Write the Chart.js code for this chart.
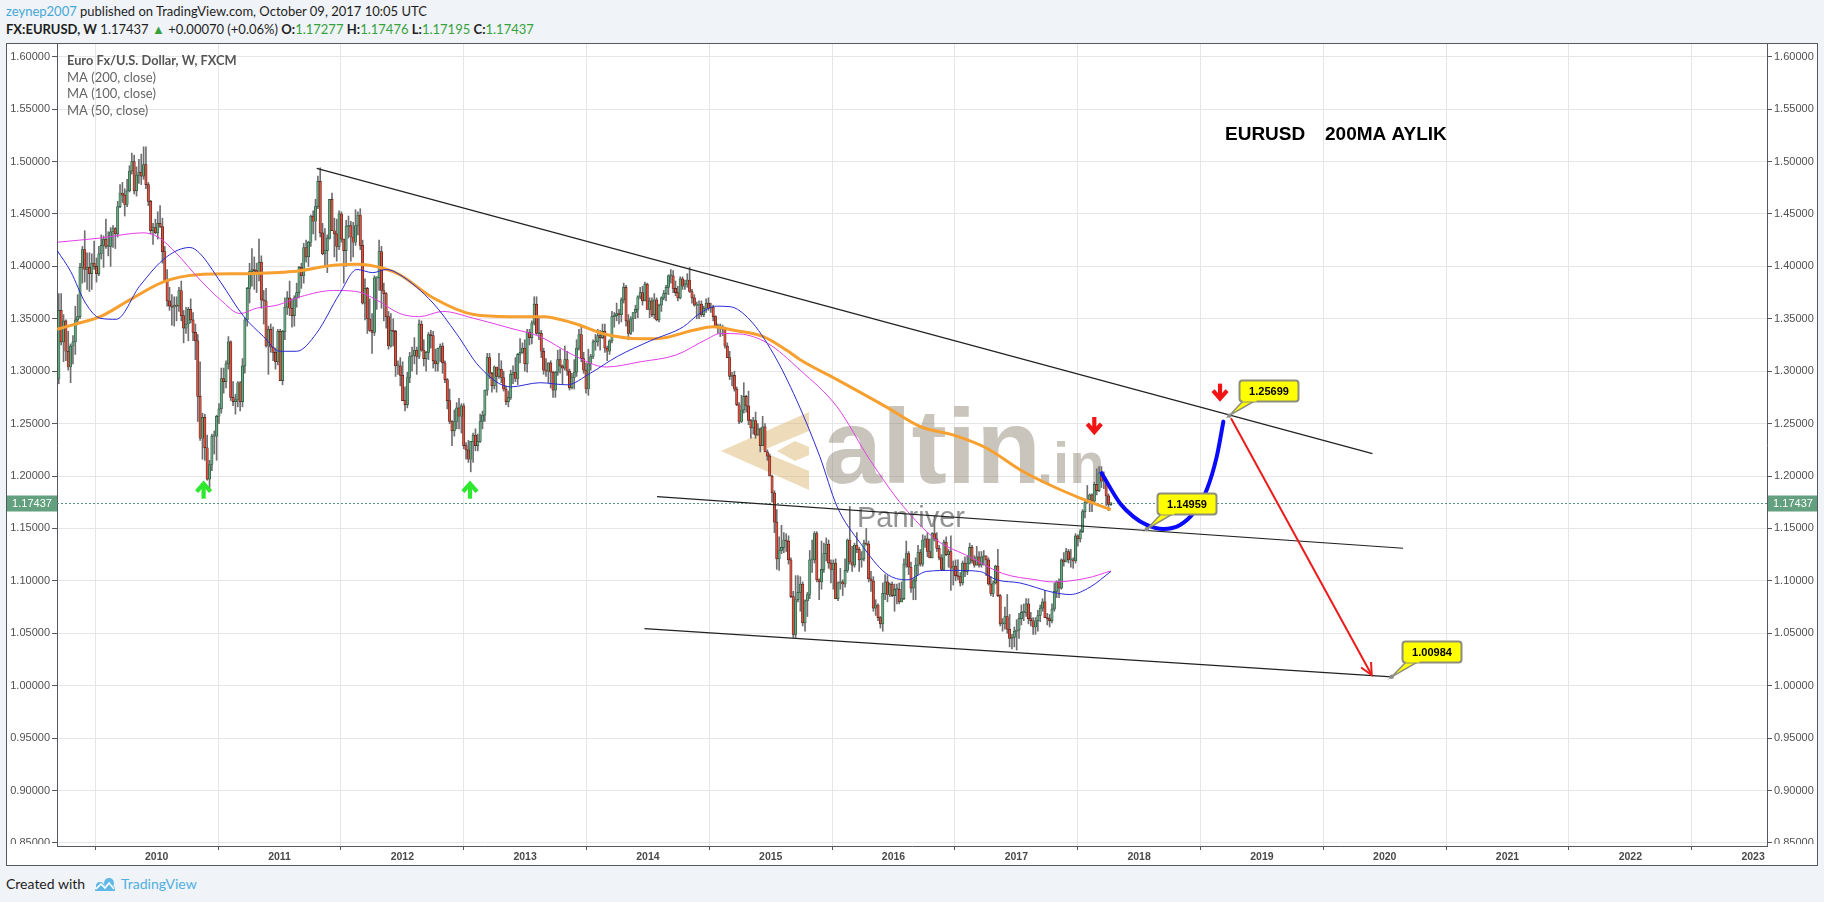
<!DOCTYPE html>
<html>
<head>
<meta charset="utf-8">
<script src="https://cdn.jsdelivr.net/npm/chart.js@4.4.1/dist/chart.umd.min.js"></script>
<style>
html,body{margin:0;padding:0;background:#f0f3f7;width:1824px;height:902px;overflow:hidden;font-family:Lato,"Open Sans",sans-serif;color:#1e1e1e;}
.hdr{position:absolute;left:6px;white-space:nowrap;font-size:13px;line-height:17px;}
#h1{top:3px;}
#h2{top:21px;}
.u{color:#44a8d8;}
.g{color:#36a23c;}
#frame{position:absolute;left:6px;top:43px;width:1812px;height:823px;border:1px solid #55585e;box-sizing:border-box;background:#fff;}
#c{position:absolute;left:0;top:0;}
#foot{position:absolute;left:6px;top:875px;font-size:14px;line-height:18px;white-space:nowrap;color:#1e1e1e;}
#foot svg{vertical-align:-3px;margin:0 4px 0 8px;}
</style>
</head>
<body>
<div class="hdr" id="h1"><span class="u">zeynep2007</span> published on TradingView.com, October 09, 2017 10:05 UTC</div>
<div class="hdr" id="h2"><b>FX:EURUSD, W</b> 1.17437 <span class="g">&#9650;</span> +0.00070 (+0.06%) <b>O:</b><span class="g">1.17277</span> <b>H:</b><span class="g">1.17476</span> <b>L:</b><span class="g">1.17195</span> <b>C:</b><span class="g">1.17437</span></div>
<div id="frame"><canvas id="c" width="1810" height="821"></canvas></div>
<div id="foot">Created with<svg width="24" height="15" viewBox="0 0 24 15"><path d="M2 13 L8 5 L12 9 L16 3 L22 11 L22 14 L2 14 Z" fill="#5fb9e4"/><circle cx="16" cy="6" r="5" fill="#5fb9e4"/><circle cx="7" cy="9" r="4" fill="#5fb9e4"/><path d="M3 12 L8 7 L12 11 L16 6 L21 12" stroke="#fff" stroke-width="1.6" fill="none"/></svg><span class="u" style="color:#4fb0df">TradingView</span></div>
<script>
// ---------------- DATA ----------------
// Weekly bars, first bar = week of Monday 2009-03-16
const firstWeekMonday = [2009, 2, 16];

const opens = [
/*2009*/1.293,1.358,1.328,1.348,1.319,1.304,1.324,1.328,1.349,1.352,1.399,1.416,1.397,1.399,1.393,1.403,1.400,1.393,1.412,1.420,1.426,1.419,1.419,1.433,1.436,1.431,1.457,1.470,1.468,1.459,1.472,1.491,1.500,1.472,1.487,1.490,1.486,1.497,1.478,1.462,1.434,1.437,
/*2010*/1.432,1.441,1.438,1.414,1.386,1.367,1.362,1.361,1.363,1.362,1.377,1.353,1.341,1.345,1.359,1.349,1.337,1.329,1.276,1.236,1.256,1.227,1.197,1.211,1.238,1.238,1.257,1.264,1.293,1.290,1.307,1.328,1.275,1.271,1.273,1.289,1.271,1.305,1.349,1.379,1.395,1.397,1.396,1.394,1.404,1.368,1.367,1.324,1.340,1.323,1.318,1.309,
/*2011*/1.338,1.291,1.338,1.361,1.370,1.360,1.353,1.370,1.375,1.399,1.391,1.418,1.409,1.423,1.448,1.443,1.457,1.481,1.432,1.412,1.415,1.427,1.464,1.434,1.431,1.419,1.450,1.426,1.415,1.438,1.439,1.428,1.423,1.439,1.449,1.420,1.365,1.379,1.350,1.339,1.337,1.389,1.389,1.414,1.377,1.374,1.352,1.324,1.339,1.338,1.305,1.305,
/*2012*/1.296,1.272,1.268,1.294,1.314,1.315,1.320,1.314,1.345,1.320,1.312,1.318,1.335,1.334,1.310,1.307,1.322,1.324,1.308,1.292,1.272,1.252,1.243,1.252,1.265,1.257,1.267,1.229,1.225,1.216,1.233,1.239,1.229,1.233,1.252,1.258,1.282,1.313,1.298,1.286,1.304,1.295,1.302,1.294,1.283,1.271,1.275,1.297,1.299,1.293,1.316,1.318,1.322,
/*2013*/1.307,1.337,1.332,1.346,1.364,1.336,1.336,1.319,1.301,1.300,1.308,1.299,1.282,1.299,1.311,1.305,1.303,1.311,1.300,1.284,1.294,1.299,1.322,1.335,1.312,1.301,1.283,1.307,1.314,1.328,1.328,1.334,1.332,1.338,1.322,1.319,1.329,1.352,1.353,1.355,1.354,1.368,1.380,1.348,1.336,1.350,1.356,1.359,1.371,1.375,1.367,1.383,
/*2014*/1.359,1.367,1.354,1.368,1.349,1.363,1.370,1.374,1.380,1.391,1.391,1.379,1.375,1.370,1.388,1.381,1.383,1.387,1.376,1.370,1.363,1.363,1.364,1.354,1.360,1.365,1.360,1.361,1.352,1.343,1.343,1.341,1.340,1.324,1.313,1.295,1.296,1.283,1.268,1.252,1.263,1.276,1.267,1.253,1.246,1.253,1.239,1.245,1.229,1.247,1.223,1.219,
/*2015*/1.200,1.184,1.156,1.121,1.129,1.132,1.139,1.138,1.120,1.085,1.049,1.082,1.089,1.097,1.060,1.081,1.087,1.120,1.120,1.145,1.101,1.099,1.111,1.126,1.135,1.117,1.111,1.117,1.083,1.098,1.099,1.097,1.110,1.139,1.118,1.115,1.134,1.130,1.120,1.121,1.136,1.135,1.102,1.100,1.074,1.077,1.065,1.059,1.088,1.099,1.087,1.097,
/*2016*/1.086,1.092,1.092,1.080,1.083,1.116,1.126,1.113,1.093,1.100,1.115,1.127,1.116,1.139,1.140,1.128,1.122,1.145,1.140,1.131,1.122,1.111,1.137,1.125,1.128,1.112,1.114,1.105,1.104,1.098,1.117,1.109,1.117,1.132,1.119,1.115,1.123,1.115,1.123,1.124,1.120,1.097,1.088,1.098,1.114,1.086,1.059,1.059,1.066,1.054,1.045,1.046,
/*2017*/1.052,1.053,1.064,1.070,1.070,1.078,1.064,1.062,1.056,1.062,1.067,1.074,1.080,1.065,1.064,1.062,1.073,1.090,1.099,1.093,1.120,1.118,1.128,1.120,1.120,1.119,1.143,1.140,1.147,1.166,1.175,1.177,1.182,1.176,1.192,1.186,1.203,1.195,1.195,1.181,1.17277
];
const highs = [
/*2009*/1.374,1.374,1.354,1.349,1.338,1.326,1.334,1.362,1.373,1.403,1.419,1.434,1.413,1.413,1.412,1.424,1.408,1.419,1.430,1.429,1.445,1.433,1.437,1.439,1.437,1.462,1.478,1.480,1.474,1.483,1.496,1.508,1.506,1.495,1.502,1.507,1.514,1.514,1.480,1.463,1.441,1.445,
/*2010*/1.452,1.458,1.446,1.419,1.397,1.380,1.373,1.371,1.371,1.380,1.386,1.358,1.361,1.361,1.369,1.356,1.345,1.335,1.309,1.260,1.259,1.239,1.215,1.240,1.243,1.258,1.269,1.303,1.303,1.310,1.333,1.329,1.290,1.278,1.290,1.290,1.312,1.351,1.380,1.403,1.417,1.409,1.403,1.426,1.410,1.377,1.379,1.343,1.345,1.342,1.322,1.340,
/*2011*/1.340,1.339,1.370,1.376,1.386,1.369,1.372,1.384,1.400,1.403,1.422,1.425,1.424,1.449,1.453,1.464,1.486,1.494,1.441,1.436,1.430,1.464,1.470,1.446,1.445,1.453,1.452,1.426,1.444,1.448,1.443,1.442,1.454,1.452,1.455,1.425,1.388,1.380,1.369,1.355,1.391,1.390,1.425,1.419,1.384,1.375,1.357,1.355,1.350,1.339,1.310,1.313,
/*2012*/1.309,1.285,1.299,1.318,1.323,1.332,1.323,1.349,1.348,1.330,1.319,1.337,1.339,1.338,1.321,1.322,1.326,1.327,1.310,1.293,1.283,1.253,1.263,1.270,1.274,1.269,1.269,1.232,1.234,1.233,1.241,1.245,1.240,1.259,1.262,1.282,1.317,1.317,1.299,1.305,1.304,1.317,1.310,1.300,1.286,1.281,1.301,1.305,1.313,1.317,1.331,1.327,1.330,
/*2013*/1.340,1.340,1.348,1.371,1.371,1.352,1.339,1.322,1.312,1.308,1.310,1.300,1.300,1.320,1.321,1.306,1.324,1.319,1.302,1.298,1.311,1.330,1.340,1.342,1.318,1.308,1.321,1.316,1.330,1.335,1.340,1.339,1.345,1.345,1.324,1.330,1.357,1.356,1.365,1.359,1.370,1.384,1.382,1.354,1.352,1.356,1.363,1.372,1.380,1.381,1.385,1.384,
/*2014*/1.370,1.370,1.374,1.370,1.364,1.371,1.377,1.382,1.392,1.397,1.396,1.386,1.381,1.390,1.390,1.387,1.393,1.399,1.378,1.373,1.366,1.367,1.367,1.362,1.369,1.370,1.365,1.363,1.353,1.345,1.345,1.344,1.342,1.327,1.319,1.299,1.300,1.285,1.270,1.277,1.289,1.277,1.281,1.254,1.256,1.261,1.250,1.246,1.257,1.250,1.225,1.221,
/*2015*/1.201,1.186,1.168,1.142,1.153,1.146,1.145,1.143,1.122,1.090,1.105,1.105,1.104,1.099,1.082,1.089,1.129,1.139,1.147,1.147,1.102,1.138,1.136,1.141,1.139,1.120,1.120,1.121,1.099,1.112,1.101,1.121,1.140,1.171,1.133,1.136,1.146,1.132,1.128,1.139,1.150,1.138,1.109,1.104,1.082,1.078,1.066,1.098,1.106,1.105,1.098,1.099,
/*2016*/1.097,1.097,1.098,1.099,1.121,1.138,1.128,1.118,1.102,1.122,1.134,1.130,1.144,1.143,1.146,1.140,1.146,1.162,1.146,1.134,1.125,1.139,1.142,1.130,1.143,1.119,1.120,1.120,1.108,1.119,1.123,1.124,1.136,1.134,1.124,1.133,1.128,1.128,1.129,1.124,1.122,1.104,1.100,1.115,1.130,1.087,1.064,1.075,1.087,1.068,1.049,1.056,
/*2017*/1.063,1.069,1.077,1.078,1.083,1.083,1.070,1.065,1.065,1.072,1.077,1.083,1.091,1.069,1.068,1.078,1.098,1.100,1.102,1.121,1.127,1.131,1.130,1.130,1.122,1.145,1.144,1.149,1.168,1.178,1.191,1.183,1.183,1.194,1.207,1.209,1.209,1.204,1.196,1.183,1.17476
];
const lows = [
/*2009*/1.288,1.325,1.309,1.310,1.301,1.289,1.307,1.316,1.346,1.350,1.384,1.385,1.378,1.376,1.378,1.397,1.385,1.391,1.407,1.399,1.417,1.410,1.400,1.418,1.417,1.428,1.456,1.461,1.448,1.457,1.471,1.488,1.469,1.467,1.479,1.478,1.483,1.474,1.458,1.431,1.421,1.431,
/*2010*/1.426,1.437,1.403,1.386,1.362,1.358,1.344,1.343,1.348,1.357,1.348,1.327,1.336,1.329,1.346,1.329,1.311,1.252,1.234,1.216,1.215,1.196,1.188,1.205,1.221,1.215,1.250,1.260,1.279,1.284,1.302,1.272,1.267,1.259,1.266,1.262,1.266,1.298,1.343,1.365,1.381,1.378,1.375,1.386,1.360,1.345,1.323,1.297,1.318,1.310,1.302,1.306,
/*2011*/1.291,1.287,1.330,1.354,1.353,1.342,1.343,1.361,1.370,1.379,1.384,1.404,1.400,1.419,1.431,1.425,1.455,1.428,1.411,1.400,1.394,1.426,1.434,1.409,1.405,1.416,1.423,1.384,1.400,1.427,1.405,1.409,1.420,1.430,1.416,1.364,1.349,1.336,1.338,1.317,1.334,1.359,1.377,1.360,1.348,1.341,1.321,1.323,1.324,1.295,1.297,1.286,
/*2012*/1.272,1.262,1.265,1.289,1.300,1.307,1.297,1.312,1.319,1.305,1.300,1.311,1.322,1.303,1.300,1.300,1.309,1.298,1.289,1.264,1.250,1.229,1.238,1.245,1.245,1.241,1.226,1.216,1.213,1.204,1.213,1.224,1.224,1.232,1.245,1.252,1.277,1.293,1.280,1.283,1.280,1.293,1.289,1.281,1.268,1.266,1.273,1.288,1.290,1.287,1.308,1.317,1.300,
/*2013*/1.299,1.325,1.326,1.344,1.335,1.330,1.313,1.297,1.295,1.289,1.284,1.275,1.275,1.296,1.298,1.288,1.301,1.296,1.282,1.283,1.283,1.295,1.320,1.309,1.298,1.279,1.277,1.301,1.312,1.320,1.324,1.320,1.331,1.318,1.310,1.316,1.327,1.342,1.348,1.345,1.347,1.365,1.343,1.330,1.335,1.338,1.350,1.351,1.369,1.363,1.367,1.359,
/*2014*/1.351,1.352,1.350,1.348,1.347,1.357,1.368,1.367,1.373,1.384,1.375,1.372,1.367,1.369,1.378,1.378,1.380,1.375,1.365,1.362,1.350,1.350,1.352,1.352,1.356,1.358,1.356,1.348,1.343,1.336,1.333,1.334,1.322,1.313,1.292,1.286,1.281,1.267,1.250,1.251,1.260,1.261,1.249,1.236,1.240,1.236,1.239,1.223,1.229,1.223,1.215,1.200,
/*2015*/1.175,1.146,1.111,1.110,1.126,1.127,1.128,1.116,1.084,1.046,1.046,1.080,1.071,1.057,1.052,1.066,1.083,1.108,1.117,1.099,1.082,1.092,1.108,1.119,1.112,1.098,1.092,1.083,1.081,1.092,1.086,1.094,1.108,1.116,1.109,1.113,1.127,1.109,1.113,1.119,1.134,1.099,1.090,1.071,1.067,1.062,1.055,1.052,1.082,1.080,1.085,1.085,
/*2016*/1.071,1.078,1.078,1.080,1.082,1.113,1.106,1.089,1.082,1.082,1.106,1.114,1.114,1.132,1.123,1.122,1.122,1.138,1.128,1.120,1.110,1.110,1.124,1.113,1.091,1.096,1.100,1.101,1.095,1.096,1.104,1.106,1.116,1.117,1.113,1.115,1.113,1.113,1.115,1.105,1.096,1.086,1.085,1.097,1.085,1.057,1.052,1.054,1.050,1.037,1.035,1.037,
/*2017*/1.034,1.045,1.058,1.062,1.066,1.059,1.057,1.049,1.049,1.052,1.061,1.071,1.065,1.058,1.056,1.060,1.071,1.084,1.084,1.092,1.114,1.118,1.117,1.113,1.112,1.117,1.133,1.137,1.146,1.160,1.174,1.166,1.166,1.175,1.182,1.185,1.189,1.188,1.172,1.167,1.17195
];
const closes = [
/*2009*/1.358,1.328,1.348,1.319,1.304,1.324,1.328,1.349,1.352,1.399,1.416,1.397,1.399,1.393,1.403,1.400,1.393,1.412,1.420,1.426,1.419,1.419,1.433,1.436,1.431,1.457,1.470,1.468,1.459,1.472,1.491,1.500,1.472,1.487,1.490,1.486,1.497,1.478,1.462,1.434,1.437,1.432,
/*2010*/1.441,1.438,1.414,1.386,1.367,1.362,1.361,1.363,1.362,1.377,1.353,1.341,1.345,1.359,1.349,1.337,1.329,1.276,1.236,1.256,1.227,1.197,1.211,1.238,1.238,1.257,1.264,1.293,1.290,1.307,1.328,1.275,1.271,1.273,1.289,1.271,1.305,1.349,1.379,1.395,1.397,1.396,1.394,1.404,1.368,1.367,1.324,1.340,1.323,1.318,1.309,1.338,
/*2011*/1.291,1.338,1.361,1.370,1.360,1.353,1.370,1.375,1.399,1.391,1.418,1.409,1.423,1.448,1.443,1.457,1.481,1.432,1.412,1.415,1.427,1.464,1.434,1.431,1.419,1.450,1.426,1.415,1.438,1.439,1.428,1.423,1.439,1.449,1.420,1.365,1.379,1.350,1.339,1.337,1.389,1.389,1.414,1.377,1.374,1.352,1.324,1.339,1.338,1.305,1.305,1.296,
/*2012*/1.272,1.268,1.294,1.314,1.315,1.320,1.314,1.345,1.320,1.312,1.318,1.335,1.334,1.310,1.307,1.322,1.324,1.308,1.292,1.272,1.252,1.243,1.252,1.265,1.257,1.267,1.229,1.225,1.216,1.233,1.239,1.229,1.233,1.252,1.258,1.282,1.313,1.298,1.286,1.304,1.295,1.302,1.294,1.283,1.271,1.275,1.297,1.299,1.293,1.316,1.318,1.322,1.307,
/*2013*/1.337,1.332,1.346,1.364,1.336,1.336,1.319,1.301,1.300,1.308,1.299,1.282,1.299,1.311,1.305,1.303,1.311,1.300,1.284,1.294,1.299,1.322,1.335,1.312,1.301,1.283,1.307,1.314,1.328,1.328,1.334,1.332,1.338,1.322,1.319,1.329,1.352,1.353,1.355,1.354,1.368,1.380,1.348,1.336,1.350,1.356,1.359,1.371,1.375,1.367,1.383,1.359,
/*2014*/1.367,1.354,1.368,1.349,1.363,1.370,1.374,1.380,1.391,1.391,1.379,1.375,1.370,1.388,1.381,1.383,1.387,1.376,1.370,1.363,1.363,1.364,1.354,1.360,1.365,1.360,1.361,1.352,1.343,1.343,1.341,1.340,1.324,1.313,1.295,1.296,1.283,1.268,1.252,1.263,1.276,1.267,1.253,1.246,1.253,1.239,1.245,1.229,1.247,1.223,1.219,1.200,
/*2015*/1.184,1.156,1.121,1.129,1.132,1.139,1.138,1.120,1.085,1.049,1.082,1.089,1.097,1.060,1.081,1.087,1.120,1.120,1.145,1.101,1.099,1.111,1.126,1.135,1.117,1.111,1.117,1.083,1.098,1.099,1.097,1.110,1.139,1.118,1.115,1.134,1.130,1.120,1.121,1.136,1.135,1.102,1.100,1.074,1.077,1.065,1.059,1.088,1.099,1.087,1.097,1.086,
/*2016*/1.092,1.092,1.080,1.083,1.116,1.126,1.113,1.093,1.100,1.115,1.127,1.116,1.139,1.140,1.128,1.122,1.145,1.140,1.131,1.122,1.111,1.137,1.125,1.128,1.112,1.114,1.105,1.104,1.098,1.117,1.109,1.117,1.132,1.119,1.115,1.123,1.115,1.123,1.124,1.120,1.097,1.088,1.098,1.114,1.086,1.059,1.059,1.066,1.054,1.045,1.046,1.052,
/*2017*/1.053,1.064,1.070,1.070,1.078,1.064,1.062,1.056,1.062,1.067,1.074,1.080,1.065,1.064,1.062,1.073,1.090,1.099,1.093,1.120,1.118,1.128,1.120,1.120,1.119,1.143,1.140,1.147,1.166,1.175,1.177,1.182,1.176,1.192,1.186,1.203,1.195,1.195,1.181,1.173,1.17437
];

// Moving averages: [decimal year, value]
const ma200Pts = [[2009.19,1.340],[2009.37,1.346],[2009.54,1.352],[2009.78,1.368],[2010.05,1.385],[2010.33,1.392],[2010.73,1.393],[2011.11,1.395],[2011.44,1.401],[2011.63,1.402],[2011.85,1.398],[2011.98,1.392],[2012.25,1.370],[2012.58,1.354],[2012.88,1.352],[2013.15,1.352],[2013.39,1.346],[2013.66,1.335],[2013.94,1.331],[2014.07,1.331],[2014.37,1.339],[2014.53,1.3425],[2014.70,1.339],[2014.94,1.333],[2015.13,1.320],[2015.24,1.311],[2015.54,1.292],[2015.94,1.266],[2016.22,1.247],[2016.49,1.239],[2016.76,1.2265],[2017.03,1.206],[2017.30,1.190],[2017.52,1.179],[2017.77,1.168]];
const ma100Pts = [[2009.19,1.423],[2009.54,1.427],[2009.89,1.432],[2010.01,1.428],[2010.16,1.4125],[2010.33,1.390],[2010.52,1.368],[2010.68,1.355],[2010.81,1.360],[2010.98,1.363],[2011.17,1.371],[2011.44,1.377],[2011.63,1.376],[2011.79,1.368],[2011.98,1.355],[2012.14,1.352],[2012.33,1.357],[2012.58,1.3505],[2012.88,1.341],[2013.12,1.333],[2013.39,1.3155],[2013.66,1.304],[2013.94,1.309],[2014.23,1.3155],[2014.48,1.3305],[2014.59,1.336],[2014.75,1.3355],[2014.97,1.327],[2015.24,1.301],[2015.54,1.266],[2015.81,1.215],[2016.08,1.171],[2016.35,1.139],[2016.62,1.123],[2016.89,1.107],[2017.16,1.101],[2017.30,1.099],[2017.57,1.1025],[2017.77,1.1095]];
const ma50Pts = [[2009.19,1.415],[2009.30,1.395],[2009.42,1.365],[2009.54,1.3505],[2009.67,1.3495],[2009.86,1.381],[2010.08,1.409],[2010.27,1.418],[2010.35,1.4125],[2010.52,1.385],[2010.71,1.352],[2010.87,1.333],[2011.00,1.319],[2011.14,1.319],[2011.30,1.336],[2011.49,1.374],[2011.63,1.397],[2011.76,1.394],[2011.87,1.397],[2011.98,1.392],[2012.25,1.365],[2012.44,1.336],[2012.63,1.304],[2012.88,1.285],[2013.12,1.289],[2013.34,1.287],[2013.53,1.298],[2013.75,1.314],[2014.02,1.329],[2014.29,1.3425],[2014.42,1.355],[2014.56,1.362],[2014.67,1.3615],[2014.83,1.349],[2015.02,1.317],[2015.21,1.2726],[2015.40,1.2185],[2015.54,1.171],[2015.73,1.136],[2015.94,1.107],[2016.11,1.101],[2016.27,1.109],[2016.49,1.110],[2016.70,1.109],[2016.84,1.101],[2017.03,1.098],[2017.30,1.089],[2017.44,1.087],[2017.60,1.094],[2017.77,1.109]];

// Drawings (decimal year, price)
const trendUpper = [[2011.303,1.4935],[2019.90,1.2214]];
const trendMiddle = [[2014.074,1.1803],[2020.15,1.1311]];
const trendLower = [[2013.972,1.0545],[2020.057,1.0085]];
const projectionPath = [[2017.695,1.2027],[2017.844,1.1741],[2017.953,1.1613],[2018.062,1.1534],[2018.197,1.1495],[2018.333,1.1534],[2018.441,1.1645],[2018.550,1.1867],[2018.632,1.2185],[2018.686,1.2519]];
const targetPath = [[2018.748,1.2551],[2019.894,1.0102]];
const calloutPts = [[2018.734,1.2576,'1.25699'],[2018.062,1.1493,'1.14959'],[2020.057,1.0085,'1.00984']];
const upArrowPts = [[2010.382,1.186],[2012.551,1.186]];
const downArrowPts = [[2017.635,1.2487],[2018.659,1.2805]];
const lastPrice = 1.17437;

const xTickYears = [2010,2011,2012,2013,2014,2015,2016,2017,2018,2019,2020,2021,2022,2023];
const yTickValues = [0.85,0.90,0.95,1.00,1.05,1.10,1.15,1.20,1.25,1.30,1.35,1.40,1.45,1.50,1.55,1.60];
const xRange = [2009.188, 2023.113];
const yRange = [0.8471, 1.6121];
const legendLines = ['Euro Fx/U.S. Dollar, W, FXCM','MA (200, close)','MA (100, close)','MA (50, close)'];

// ---------------- BUILD ----------------
function decimalYear(ms){
  const y = new Date(ms).getUTCFullYear();
  const a = Date.UTC(y,0,1), b = Date.UTC(y+1,0,1);
  return y + (ms - a) / (b - a);
}
const weekX = closes.map((_, i) => decimalYear(Date.UTC(firstWeekMonday[0], firstWeekMonday[1], firstWeekMonday[2] + 7 * i)));
const toXY = pts => pts.map(p => ({x: p[0], y: p[1]}));

const UP_FILL = '#6ba583', DN_FILL = '#d75442', UP_LINE = '#225437', DN_LINE = '#5b1a13';
const isUp = i => closes[i] >= opens[i];

const FONT = '"Liberation Sans", Arial, sans-serif';

function lineDs(pts, color, width, order, extra){
  return Object.assign({type:'line', data: toXY(pts), borderColor: color, borderWidth: width, pointRadius: 0, fill: false, tension: 0, order}, extra || {});
}

function arrow(ctx, x, y, dir, color){
  // dir = -1 up, +1 down
  ctx.save();
  ctx.strokeStyle = color; ctx.lineWidth = 4.2; ctx.lineCap = 'butt'; ctx.lineJoin = 'miter';
  ctx.beginPath(); ctx.moveTo(x, y - 8 * dir); ctx.lineTo(x, y + 6 * dir); ctx.stroke();
  ctx.beginPath(); ctx.moveTo(x - 7, y - 1 * dir); ctx.lineTo(x, y + 7 * dir); ctx.lineTo(x + 7, y - 1 * dir); ctx.stroke();
  ctx.restore();
}

function roundRect(ctx, x, y, w, h, r){
  ctx.beginPath();
  ctx.moveTo(x + r, y); ctx.lineTo(x + w - r, y); ctx.quadraticCurveTo(x + w, y, x + w, y + r);
  ctx.lineTo(x + w, y + h - r); ctx.quadraticCurveTo(x + w, y + h, x + w - r, y + h);
  ctx.lineTo(x + r, y + h); ctx.quadraticCurveTo(x, y + h, x, y + h - r);
  ctx.lineTo(x, y + r); ctx.quadraticCurveTo(x, y, x + r, y); ctx.closePath();
}

const overlay = {
  id: 'overlay',
  beforeDatasetsDraw(chart){
    const {ctx, chartArea: a, scales} = chart;
    ctx.save();
    ctx.beginPath(); ctx.rect(a.left, a.top, a.right - a.left, a.bottom - a.top); ctx.clip();
    // watermark logo
    const lx = 714, ly = 368;
    ctx.fillStyle = 'rgba(214,176,100,0.45)';
    ctx.beginPath();
    ctx.moveTo(lx + 88, ly); ctx.lineTo(lx, ly + 39); ctx.lineTo(lx + 88, ly + 78);
    ctx.lineTo(lx + 88, ly + 59); ctx.lineTo(lx + 40, ly + 39); ctx.lineTo(lx + 88, ly + 19); ctx.closePath(); ctx.fill();
    ctx.beginPath();
    ctx.moveTo(lx + 56, ly + 39); ctx.lineTo(lx + 74, ly + 29); ctx.lineTo(lx + 88, ly + 35); ctx.lineTo(lx + 88, ly + 43); ctx.lineTo(lx + 74, ly + 49); ctx.closePath(); ctx.fill();
    ctx.fillStyle = 'rgba(140,128,110,0.46)';
    ctx.textBaseline = 'alphabetic'; ctx.textAlign = 'left';
    ctx.font = 'bold 106px ' + FONT;
    ctx.fillText('altin', 816, 439);
    ctx.font = 'bold 58px ' + FONT;
    ctx.fillText('.in', 1030, 439);
    ctx.fillStyle = 'rgba(80,80,80,0.62)';
    ctx.font = '29px ' + FONT;
    ctx.fillText('Panriver', 850, 483);
    // last price dotted line
    const py = Math.round(scales.y.getPixelForValue(lastPrice)) + 0.5;
    ctx.strokeStyle = '#5a8f7c'; ctx.lineWidth = 1; ctx.setLineDash([2, 2]);
    ctx.beginPath(); ctx.moveTo(a.left, py); ctx.lineTo(a.right, py); ctx.stroke();
    ctx.restore();
  },
  afterDatasetsDraw(chart){
    const {ctx, chartArea: a, scales} = chart;
    const X = v => scales.x.getPixelForValue(v), Y = v => scales.y.getPixelForValue(v);
    ctx.save();
    ctx.beginPath(); ctx.rect(a.left, a.top, a.right - a.left, a.bottom - a.top); ctx.clip();
    // arrowhead of target line
    const x1 = X(targetPath[0][0]), y1 = Y(targetPath[0][1]), x2 = X(targetPath[1][0]), y2 = Y(targetPath[1][1]);
    const ang = Math.atan2(y2 - y1, x2 - x1);
    ctx.strokeStyle = '#ee1b1b'; ctx.lineWidth = 2;
    ctx.beginPath();
    ctx.moveTo(x2 - 13 * Math.cos(ang - 0.45), y2 - 13 * Math.sin(ang - 0.45));
    ctx.lineTo(x2, y2);
    ctx.lineTo(x2 - 13 * Math.cos(ang + 0.45), y2 - 13 * Math.sin(ang + 0.45));
    ctx.stroke();
    // arrows
    upArrowPts.forEach(p => arrow(ctx, X(p[0]), Y(p[1]), -1, '#2ee82e'));
    downArrowPts.forEach(p => arrow(ctx, X(p[0]), Y(p[1]), 1, '#f01414'));
    // callouts
    calloutPts.forEach(p => {
      const px = X(p[0]), py = Y(p[1]);
      const bx = Math.round(px + 10) + 0.5, by = Math.round(py - 36) + 0.5, bw = 59, bh = 21;
      ctx.beginPath(); ctx.moveTo(px, py); ctx.lineTo(bx + 4, by + bh - 1); ctx.lineTo(bx + 16, by + bh - 1); ctx.closePath();
      ctx.fillStyle = '#ffff00'; ctx.fill(); ctx.strokeStyle = '#8e8e7c'; ctx.lineWidth = 1.5; ctx.stroke();
      roundRect(ctx, bx, by, bw, bh, 3);
      ctx.fillStyle = '#ffff00'; ctx.fill(); ctx.lineWidth = 2; ctx.strokeStyle = '#8e8e7c'; ctx.stroke();
      ctx.fillStyle = '#ffff00'; ctx.fillRect(bx + 3, by + bh - 3, 14, 3);
      ctx.fillStyle = '#000'; ctx.font = 'bold 11px ' + FONT; ctx.textAlign = 'center'; ctx.textBaseline = 'middle';
      ctx.fillText(p[2], bx + bw / 2, by + bh / 2 + 0.5);
      ctx.fillStyle = '#8c8c8c'; ctx.beginPath(); ctx.arc(px, py, 2.2, 0, Math.PI * 2); ctx.fill();
    });
    ctx.restore();
    // legend texts
    ctx.save();
    ctx.textAlign = 'left'; ctx.textBaseline = 'middle';
    ctx.fillStyle = '#555';
    ctx.font = 'bold 12.8px Lato, "Open Sans", sans-serif';
    ctx.fillText(legendLines[0], 60, 17);
    ctx.font = '13px Lato, "Open Sans", sans-serif';
    ctx.fillStyle = '#666';
    ctx.fillText(legendLines[1], 60, 33.5);
    ctx.fillText(legendLines[2], 60, 50);
    ctx.fillText(legendLines[3], 60, 66.5);
    // title
    ctx.fillStyle = '#000';
    ctx.font = 'bold 19px ' + FONT;
    ctx.fillText('EURUSD', 1218, 91);
    ctx.fillText('200MA AYLIK', 1318, 91);
    ctx.restore();
  },
  afterDraw(chart){
    const {ctx, chartArea: a, scales} = chart;
    ctx.save();
    // the lowest price label is cut by the time axis, as in the original
    ctx.fillStyle = '#fff';
    ctx.fillRect(0, a.bottom - 2, a.left - 6, 21);
    ctx.fillRect(a.right + 6, a.bottom - 2, 60, 21);
    const py = scales.y.getPixelForValue(lastPrice);
    ctx.fillStyle = '#62a07f';
    ctx.fillRect(0, Math.round(py) - 7.5, 50, 16);
    ctx.fillRect(a.right + 1, Math.round(py) - 7.5, 50, 16);
    ctx.fillStyle = '#fff'; ctx.font = '11px ' + FONT; ctx.textAlign = 'center'; ctx.textBaseline = 'middle';
    const txt = lastPrice.toFixed(5);
    ctx.fillText(txt, 25, Math.round(py) + 0.5);
    ctx.fillText(txt, a.right + 26, Math.round(py) + 0.5);
    ctx.restore();
  }
};

const yAxisCommon = {
  type: 'linear', min: yRange[0], max: yRange[1],
  afterBuildTicks: s => { s.ticks = yTickValues.map(v => ({value: v})); },
  ticks: {callback: v => Number(v).toFixed(5), font: {family: FONT, size: 11}, color: '#505050', padding: 2, autoSkip: false},
  border: {display: true, color: '#55585e', width: 1}
};

new Chart(document.getElementById('c'), {
  type: 'line',
  data: {
    datasets: [
      {type: 'bar', data: weekX.map((x, i) => ({x, y: [lows[i], highs[i]]})), backgroundColor: '#6f6f71', barThickness: 1, grouped: false, order: 20, borderWidth: 0},
      {type: 'bar', data: weekX.map((x, i) => ({x, y: [opens[i], closes[i]]})),
        backgroundColor: c => isUp(c.dataIndex) ? UP_FILL : DN_FILL,
        borderColor: c => isUp(c.dataIndex) ? UP_LINE : DN_LINE,
        borderWidth: 0.7, borderSkipped: false, barThickness: 2.4, minBarLength: 1, grouped: false, order: 19},
      lineDs(ma200Pts, '#f7a030', 3, 8, {cubicInterpolationMode: 'monotone'}),
      lineDs(ma100Pts, '#e23ee6', 1, 7, {cubicInterpolationMode: 'monotone'}),
      lineDs(ma50Pts, '#2a2ad6', 1, 6, {cubicInterpolationMode: 'monotone'}),
      lineDs(trendUpper, '#222', 1.2, 5),
      lineDs(trendMiddle, '#222', 1.2, 5),
      lineDs(trendLower, '#222', 1.2, 5),
      lineDs(projectionPath, '#0a0aff', 4, 3, {cubicInterpolationMode: 'monotone', borderCapStyle: 'round'}),
      lineDs(targetPath, '#ee1b1b', 2, 2)
    ]
  },
  options: {
    responsive: false, animation: false, events: [],
    layout: {padding: 0},
    plugins: {legend: {display: false}, tooltip: {enabled: false}},
    scales: {
      x: {
        type: 'linear', position: 'bottom', min: xRange[0], max: xRange[1], offset: false,
        afterBuildTicks: s => { s.ticks = xTickYears.map(v => ({value: v})); },
        afterFit: s => { s.height = 19; s.paddingLeft = 0; s.paddingRight = 0; },
        ticks: {callback: v => String(v), font: {family: FONT, size: 10.5, weight: 'bold'}, color: '#4a4a4a', padding: 1, maxRotation: 0, autoSkip: false},
        grid: {color: '#e6e6e6', lineWidth: 1, tickLength: 4, tickColor: '#55585e'},
        border: {display: true, color: '#55585e', width: 1}
      },
      y: Object.assign({}, yAxisCommon, {
        position: 'left',
        afterFit: s => { s.width = 50; s.paddingTop = 0; s.paddingBottom = 0; },
        grid: {color: '#e6e6e6', lineWidth: 1, tickLength: 5, tickColor: '#55585e'}
      }),
      y2: Object.assign({}, yAxisCommon, {
        position: 'right',
        afterFit: s => { s.width = 50; s.paddingTop = 0; s.paddingBottom = 0; },
        grid: {drawOnChartArea: false, tickLength: 5, tickColor: '#55585e'}
      })
    }
  },
  plugins: [overlay]
});
</script>
</body>
</html>
